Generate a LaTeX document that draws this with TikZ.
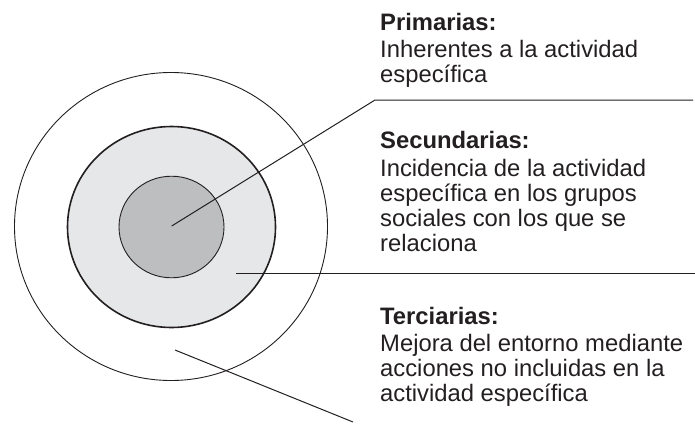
\documentclass[tikz,border=0pt]{standalone}
\usepackage{fontspec}
\setmainfont{Liberation Sans}
\definecolor{ink}{HTML}{231F20}
\definecolor{midgray}{HTML}{E6E7E8}
\definecolor{coregray}{HTML}{BCBEC0}
\begin{document}
\begin{tikzpicture}[x=1pt,y=-1pt,
  ring/.style={draw=ink},
  leader/.style={draw=ink, line width=1pt},
  label/.style={anchor=base west, inner sep=0pt, align=left,
    font=\fontsize{23.8}{25}\selectfont, text=ink}]
\useasboundingbox (0,0) rectangle (695,423);
% rings
\draw[ring, line width=0.9pt] (171,226.5) ellipse [x radius=156.5, y radius=154];
\draw[ring, fill=midgray, line width=1.6pt] (171.5,227) ellipse [x radius=104, y radius=100.5];
\draw[ring, fill=coregray, line width=0.9pt] (171.5,227) ellipse [x radius=52.5, y radius=50.8];
% anchor points
\coordinate (c1) at (171.7,226);
\coordinate (k1) at (375,100);
\coordinate (e1) at (693,100);
\coordinate (c2) at (236,273);
\coordinate (e2) at (695,273);
\coordinate (c3) at (175,350);
\coordinate (e3) at (353,422);
% labels (anchored at the baseline of their last line)
\node[label] (prim) at (380,82.8) {\textbf{Primarias:}\\[2.7pt]Inherentes a la actividad\\espec\'ifica};
\node[label] (sec) at (380,251.5) {\textbf{Secundarias:}\\[2.7pt]Incidencia de la actividad\\espec\'ifica en los grupos\\sociales con los que se\\relaciona};
\node[label] (ter) at (380,401.7) {\textbf{Terciarias:}\\[2.7pt]Mejora del entorno mediante\\acciones no incluidas en la\\actividad espec\'ifica};
% leaders
\draw[leader] (c1) -- (k1) -- (e1);
\draw[leader] (c2) -- (e2);
\draw[leader] (c3) -- (e3);
\end{tikzpicture}
\end{document}
